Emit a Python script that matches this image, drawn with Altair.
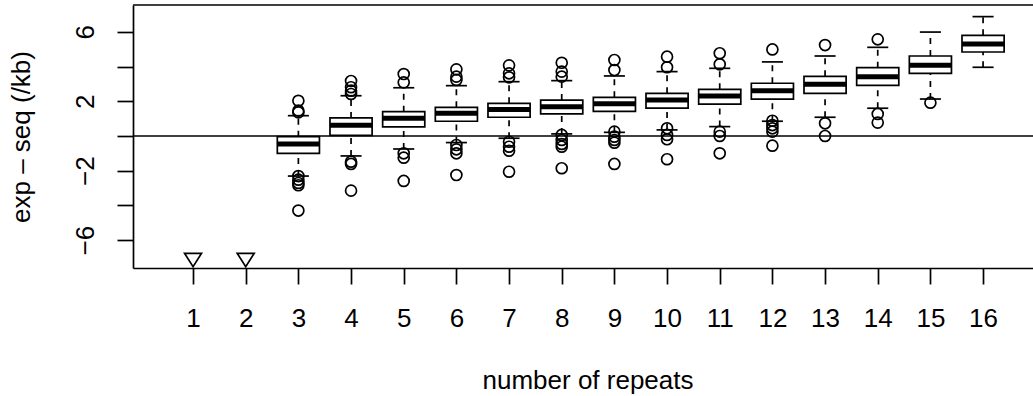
import altair as alt
import pandas as pd

# ---- data ----
reps = [3, 4, 5, 6, 7, 8, 9, 10, 11, 12, 13, 14, 15, 16]
q1 = [-1.00, 0.04, 0.52, 0.85, 1.08, 1.27, 1.42, 1.61, 1.84, 2.13, 2.46, 2.92, 3.61, 4.84]
med = [-0.46, 0.62, 1.02, 1.31, 1.52, 1.69, 1.86, 2.07, 2.31, 2.61, 2.98, 3.42, 4.07, 5.30]
q3 = [-0.04, 1.04, 1.40, 1.65, 1.88, 2.07, 2.23, 2.46, 2.69, 3.04, 3.44, 3.94, 4.61, 5.80]
lw = [-2.31, -1.15, -0.75, -0.38, -0.13, 0.12, 0.21, 0.35, 0.54, 0.85, 1.08, 1.60, 2.13, 3.96]
uw = [1.17, 2.32, 2.78, 2.90, 3.13, 3.19, 3.46, 3.71, 3.90, 4.27, 4.61, 5.11, 5.99, 6.88]

outliers = {
    3: [2.03, 1.46, 1.36, -2.31, -2.52, -2.71, -2.84, -4.30],
    4: [3.17, 2.81, 2.61, 2.42, -1.48, -1.61, -3.15],
    5: [3.57, 3.09, -1.00, -1.25, -2.59],
    6: [3.84, 3.42, 3.23, -0.52, -0.77, -1.00, -2.25],
    7: [4.07, 3.61, 3.38, -0.33, -0.62, -0.85, -2.06],
    8: [4.22, 3.71, 3.42, 0.06, -0.23, -0.46, -0.62, -1.86],
    9: [4.38, 3.80, 0.25, -0.04, -0.23, -0.39, -1.61],
    10: [4.57, 3.96, 0.44, 0.06, -0.19, -1.34],
    11: [4.77, 4.13, 0.25, 0.00, -1.00],
    12: [4.99, 0.88, 0.63, 0.44, 0.25, -0.56],
    13: [5.24, 0.73, 0.00],
    14: [5.57, 1.27, 0.77],
    15: [1.92],
    16: [],
}

offscale_reps = [1, 2]
offscale_val = [-7.15, -7.15]

x_ticks = list(range(1, 17))
y_ticks = [-6, -4, -2, 0, 2, 4, 6]

# ---- tables ----
box_df = pd.DataFrame(dict(rep=reps, q1=q1, med=med, q3=q3, lw=lw, uw=uw))
out_df = pd.DataFrame(
    [(r, v) for r, vals in outliers.items() for v in vals], columns=["rep", "val"]
)
off_df = pd.DataFrame(dict(rep=offscale_reps, val=offscale_val))

FONT = "Liberation Sans"
W, H = 900, 263
SW = 1.7

xscale = alt.Scale(domain=[-0.14, 16.948], nice=False, zero=False)
yscale = alt.Scale(domain=[-7.61, 7.55], nice=False, zero=False)

xaxis = alt.Axis(
    values=x_ticks, format="d", labelAngle=0, labelAlign="center",
    labelBaseline="alphabetic", labelPadding=42, tickSize=16, tickWidth=SW,
    tickColor="black", domainColor="black", domainWidth=SW, grid=False,
    labelFont=FONT, labelFontSize=26, labelColor="black", labelOverlap=False,
    labelFlush=False, title="number of repeats", titleFont=FONT,
    titleFontSize=26, titleFontWeight="normal", titleColor="black",
    titleX=454.5, titleY=120.6, titleAlign="center", titleBaseline="alphabetic",
)
yaxis = alt.Axis(
    values=y_ticks, labelExpr="abs(datum.value) % 4 == 2 ? datum.label : ''",
    labelAngle=270, labelAlign="center", labelBaseline="alphabetic",
    labelPadding=24, tickSize=16, tickWidth=SW, tickColor="black",
    domainColor="black", domainWidth=SW, grid=False, labelFont=FONT,
    labelFontSize=26, labelColor="black", labelOverlap=False, labelFlush=False,
    title="exp – seq (/kb)", titleFont=FONT, titleFontSize=26,
    titleFontWeight="normal", titleColor="black", titleAngle=270,
    titleX=-103.5, titleY=131.5, titleAlign="center", titleBaseline="alphabetic",
)

X = lambda f: alt.X(f, type="quantitative", scale=xscale, axis=xaxis)
Y = lambda f: alt.Y(f, type="quantitative", scale=yscale, axis=yaxis)

base = alt.Chart(box_df).transform_calculate(
    bl="datum.rep - 0.4", br="datum.rep + 0.4",
    cl="datum.rep - 0.2", cr="datum.rep + 0.2",
)

whisk_up = base.mark_rule(color="black", strokeWidth=SW, strokeDash=[6, 6]).encode(
    x=X("rep"), y=Y("q3"), y2="uw:Q")
whisk_lo = base.mark_rule(color="black", strokeWidth=SW, strokeDash=[6, 6]).encode(
    x=X("rep"), y=Y("lw"), y2="q1:Q")
cap_up = base.mark_rule(color="black", strokeWidth=SW).encode(
    x=X("cl"), x2="cr:Q", y=Y("uw"))
cap_lo = base.mark_rule(color="black", strokeWidth=SW).encode(
    x=X("cl"), x2="cr:Q", y=Y("lw"))
boxes = base.mark_rect(fill="white", stroke="black", strokeWidth=SW).encode(
    x=X("bl"), x2="br:Q", y=Y("q1"), y2="q3:Q")
medians = base.mark_rule(color="black", strokeWidth=5).encode(
    x=X("bl"), x2="br:Q", y=Y("med"))

outs = alt.Chart(out_df).mark_point(
    shape="circle", filled=False, size=120, strokeWidth=SW, color="black", opacity=1
).encode(x=X("rep"), y=Y("val"))

tri = alt.Chart(off_df).mark_point(
    shape="M-1,-0.79L1,-0.79L0,0.79Z", filled=False, size=289,
    strokeWidth=SW, color="black", opacity=1
).encode(x=X("rep"), y=Y("val"))

zero = alt.Chart(pd.DataFrame({"z": [0]})).mark_rule(
    color="black", strokeWidth=SW).encode(y=Y("z"))

top = alt.Chart(pd.DataFrame({"z": [0]})).mark_rule(
    color="black", strokeWidth=SW).encode(
    y=alt.value(0), x=alt.value(0), x2=alt.value(W))

chart = alt.layer(
    whisk_up, whisk_lo, boxes, medians, cap_up, cap_lo, outs, tri, zero, top
).properties(
    width=W, height=H,
    autosize=alt.AutoSizeParams(type="none"),
    padding={"left": 133, "top": 5, "right": 0, "bottom": 128},
    background="white",
).configure_view(stroke=None)

chart.save("out.html", embed_options={"renderer": "svg", "actions": False})
